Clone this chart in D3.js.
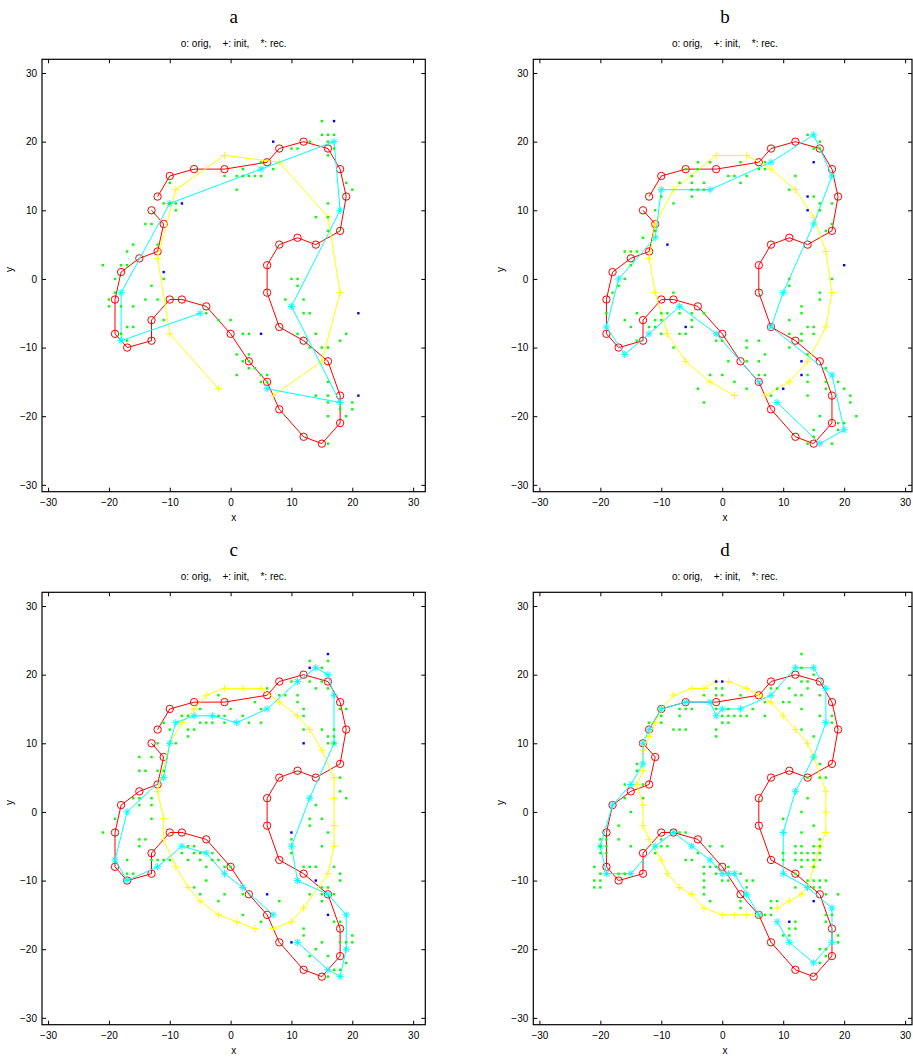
<!DOCTYPE html>
<html><head><meta charset="utf-8">
<script src="https://cdn.jsdelivr.net/npm/d3@7"></script>
<style>body{margin:0;background:#fff}svg{display:block}</style>
</head><body>
<script>
// ---------- data ----------
const tickValues = [-30,-20,-10,0,10,20,30];
const panelNames = ['a','b','c','d'];
const subtitle = 'o: orig,    +: init,    *: rec.';

const orig = [[-13,10],[-11,8],[-12,4],[-15,3],[-18,1],[-19,-3],[-19,-8],[-17,-10],[-13,-9],[-13,-6],[-10,-3],[-8,-3],[-4,-4],[0,-8],[3,-12],[6,-15],[8,-19],[12,-23],[15,-24],[18,-21],[18,-17],[16,-12],[12,-9],[8,-7],[6,-2],[6,2],[8,5],[11,6],[14,5],[18,7],[19,12],[18,16],[16,19],[12,20],[8,19],[6,17],[-1,16],[-6,16],[-10,15],[-12,12]];

const initA = [[-2,-16],[-10,-8],[-12,3],[-9,13],[-1,18],[8,17],[16,9],[18,-2],[15,-12],[7,-17]];
const recA = [[-5,-5],[-18,-9],[-18,-2],[-10,11],[5,16],[17,20],[18,10],[10,-4],[18,-18],[6,-16]];
const greenA = [[15,23],[15,21],[16,21],[17,21],[13,20],[16,20],[17,19],[10,19],[11,19],[16,18],[5,17],[2,16],[7,16],[-1,15],[1,15],[2,15],[3,15],[4,15],[5,15],[1,13],[-10,14],[19,14],[20,13],[16,11],[-11,11],[-10,11],[-9,11],[-9,10],[14,9],[16,9],[16,7],[-14,8],[-13,8],[-16,5],[-12,5],[-17,4],[-21,2],[-18,2],[-17,2],[-19,0],[-11,0],[-13,-1],[10,0],[11,0],[11,-1],[-19,-2],[9,-3],[12,-3],[-20,-3],[-14,-3],[-12,-3],[-20,-4],[-18,-4],[-16,-4],[12,-5],[13,-5],[-4,-5],[-11,-6],[-2,-6],[0,-6],[-17,-7],[-16,-7],[2,-8],[3,-8],[-18,-8],[11,-8],[14,-8],[19,-8],[-17,-9],[18,-9],[13,-10],[15,-10],[16,-10],[1,-11],[3,-11],[2,-12],[3,-12],[3,-13],[4,-13],[1,-14],[5,-14],[6,-14],[5,-15],[6,-15],[16,-15],[14,-17],[16,-17],[20,-18],[16,-18],[18,-19],[20,-19],[16,-20],[19,-20],[16,-24]];
const blueA = [[17,23],[7,20],[-8,11],[-11,1],[5,-8],[21,-5],[21,-17]];

const initB = [[2,-17],[-2,-15],[-6,-12],[-9,-8],[-11,-2],[-12,3],[-11,8],[-8,13],[-1,18],[4,18],[8,16],[12,13],[15,9],[17,4],[18,-2],[17,-7],[14,-12],[11,-15],[7,-17]];
const recB = [[9,-18],[16,-24],[20,-22],[18,-14],[8,-7],[10,-2],[15,8],[18,15],[15,21],[8,17],[-2,13],[-10,13],[-11,6],[-17,0],[-19,-7],[-16,-11],[-12,-8],[-7,-4],[-1,-8],[6,-15]];
const greenB = [[14,21],[16,20],[15,19],[16,19],[-4,17],[-2,17],[3,17],[7,17],[-6,16],[-4,16],[6,16],[7,16],[1,15],[2,15],[4,15],[12,15],[-5,15],[-7,14],[-5,14],[-3,14],[3,14],[-5,13],[-4,13],[-3,13],[11,13],[-5,12],[15,12],[-10,12],[-8,11],[16,11],[18,11],[-11,10],[16,10],[18,8],[-11,7],[17,7],[-13,6],[-16,4],[-15,4],[-14,4],[-15,2],[-16,0],[11,0],[18,0],[11,-1],[-17,-1],[-8,-2],[-18,-2],[16,-2],[16,-3],[13,-4],[-14,-5],[-10,-5],[-9,-5],[-7,-5],[-5,-5],[-3,-5],[13,-5],[-19,-5],[-16,-6],[-11,-6],[-10,-6],[-5,-6],[11,-6],[-15,-7],[-12,-7],[-11,-7],[-5,-7],[14,-7],[15,-7],[-10,-8],[-7,-8],[-6,-8],[11,-8],[13,-8],[15,-8],[-1,-9],[0,-9],[4,-9],[6,-9],[-14,-9],[13,-9],[-8,-10],[4,-10],[11,-10],[7,-11],[14,-11],[1,-12],[4,-12],[6,-12],[17,-13],[-2,-14],[0,-14],[6,-14],[7,-14],[14,-14],[2,-15],[14,-15],[17,-15],[19,-15],[-4,-16],[4,-16],[9,-16],[17,-16],[20,-16],[14,-17],[21,-17],[8,-17],[-3,-18],[21,-18],[22,-20],[16,-20],[19,-21],[20,-21],[15,-22],[19,-22],[14,-24],[18,-24],[15,-23]];
const blueB = [[15,17],[14,12],[14,10],[-9,5],[20,2],[-6,-7],[13,-12],[13,-14],[10,-16]];

const initC = [[4,-17],[1,-16],[-2,-15],[-5,-13],[-7,-11],[-9,-8],[-11,-4],[-11,-1],[-12,3],[-10,10],[-8,13],[-6,15],[-4,17],[-1,18],[2,18],[5,18],[8,16],[11,14],[13,12],[15,9],[17,5],[17,2],[17,-2],[17,-5],[16,-9],[12,-14],[10,-16],[7,-17]];
const recC = [[11,-19],[16,-23],[18,-24],[19,-20],[19,-15],[16,-12],[11,-10],[10,-5],[13,2],[17,10],[17,17],[16,20],[14,21],[11,19],[6,15],[1,13],[-3,14],[-6,14],[-9,13],[-10,10],[-11,5],[-17,0],[-19,-7],[-17,-10],[-12,-8],[-8,-5],[-4,-6],[-1,-9],[2,-11],[7,-15]];
const greenC = [[16,22],[13,22],[15,21],[10,19],[13,19],[15,19],[14,18],[16,18],[6,18],[8,17],[9,17],[11,17],[-2,17],[4,16],[11,16],[-5,15],[0,15],[5,15],[12,15],[18,15],[19,15],[12,14],[-8,14],[-7,14],[-2,14],[-1,14],[2,14],[-11,13],[-5,13],[-4,13],[-3,13],[-1,13],[3,13],[5,13],[-10,12],[-7,12],[-6,12],[12,12],[15,12],[17,12],[-7,11],[16,11],[17,11],[-12,10],[-9,10],[16,10],[17,10],[-15,8],[-13,8],[-15,6],[-14,6],[-12,6],[-11,6],[18,5],[18,3],[19,2],[-16,2],[-15,2],[-13,2],[-15,1],[-13,1],[14,1],[-19,-1],[-13,-1],[13,-1],[15,-1],[-21,-3],[13,-2],[16,-3],[-15,-4],[-14,-4],[10,-4],[-15,-5],[15,-5],[-17,-7],[-13,-7],[-12,-7],[-11,-7],[-10,-7],[-7,-7],[-5,-7],[-3,-7],[-2,-7],[-8,-6],[-6,-6],[-5,-6],[-3,-6],[-7,-5],[-6,-5],[10,-6],[-4,-8],[-1,-8],[0,-8],[12,-8],[13,-8],[14,-8],[17,-8],[-17,-9],[-16,-9],[18,-9],[18,-10],[-4,-10],[15,-11],[16,-11],[-6,-11],[-5,-12],[-1,-12],[2,-12],[13,-12],[15,-12],[17,-12],[-2,-13],[8,-13],[15,-13],[2,-15],[5,-16],[17,-16],[18,-16],[12,-17],[12,-18],[20,-18],[18,-19],[19,-19],[20,-19],[15,-19],[14,-20],[19,-22],[13,-21],[16,-21],[17,-23],[18,-23],[16,-24]];
const blueC = [[16,23],[13,21],[12,10],[10,-3],[14,-10],[6,-12],[16,-15],[10,-19]];

const initD = [[6,-15],[4,-15],[2,-15],[0,-15],[-3,-14],[-5,-12],[-7,-11],[-9,-9],[-10,-7],[-12,-4],[-13,-2],[-13,1],[-14,4],[-13,6],[-13,9],[-12,11],[-11,13],[-10,15],[-8,17],[-5,18],[-3,18],[-1,19],[1,19],[4,18],[6,17],[8,16],[10,14],[12,12],[14,10],[15,8],[17,3],[17,0],[17,-3],[16,-5],[15,-8],[14,-11],[13,-12],[11,-13],[9,-14]];
const recD = [[6,-15],[4,-12],[2,-9],[1,-9],[0,-9],[-2,-7],[-5,-5],[-8,-3],[-11,-5],[-15,-9],[-19,-9],[-20,-5],[-18,1],[-15,4],[-13,7],[-13,10],[-12,12],[-10,15],[-6,16],[-2,16],[-1,14],[0,15],[3,15],[8,17],[12,21],[15,21],[17,18],[17,13],[15,8],[12,3],[10,-3],[10,-9],[14,-11],[18,-14],[18,-19],[15,-22],[11,-19],[9,-16]];
const greenD = [[13,23],[13,21],[13,19],[14,19],[15,20],[8,18],[9,18],[11,18],[14,18],[-1,18],[0,18],[-3,17],[-1,17],[0,17],[3,17],[12,17],[13,17],[16,17],[7,16],[10,16],[11,16],[-7,15],[-6,15],[-5,15],[-1,15],[1,15],[5,15],[13,15],[-10,14],[-7,14],[0,14],[1,14],[2,14],[3,14],[4,14],[7,14],[16,14],[18,14],[-12,13],[-10,13],[0,13],[1,13],[18,13],[-8,12],[-7,12],[-6,12],[-1,12],[13,12],[-1,11],[15,11],[-14,7],[-14,6],[16,7],[-16,4],[-13,4],[14,5],[16,5],[17,5],[-16,2],[-13,2],[14,2],[-15,0],[13,0],[10,-1],[15,-2],[-17,-2],[13,-3],[16,-4],[-20,-4],[-19,-4],[-17,-4],[-20,-5],[-19,-5],[-15,-5],[-10,-4],[-7,-3],[-6,-3],[-10,-5],[-9,-5],[0,-5],[-2,-5],[12,-5],[13,-5],[15,-5],[16,-5],[-20,-6],[-19,-6],[-11,-6],[-4,-6],[10,-6],[12,-6],[13,-6],[14,-6],[15,-6],[16,-6],[-6,-7],[-5,-7],[10,-7],[12,-7],[13,-7],[14,-7],[15,-7],[16,-7],[-21,-8],[-3,-8],[-2,-8],[-1,-8],[1,-8],[13,-8],[15,-8],[-20,-9],[-17,-9],[-16,-9],[-3,-9],[-1,-9],[3,-9],[12,-9],[-21,-10],[-20,-10],[-3,-10],[0,-10],[1,-10],[4,-10],[5,-10],[14,-10],[15,-10],[16,-10],[17,-10],[-21,-11],[-20,-11],[-3,-11],[4,-11],[12,-11],[15,-11],[16,-11],[-3,-12],[17,-12],[19,-12],[-2,-13],[3,-13],[8,-13],[9,-13],[3,-14],[8,-14],[17,-15],[18,-15],[7,-15],[8,-15],[12,-16],[17,-16],[11,-17],[12,-17],[10,-18],[11,-18],[19,-18],[19,-19],[16,-20],[17,-20],[16,-22],[17,-21]];
const blueD = [[-1,19],[0,19],[15,-13],[11,-16]];

const panelData = [
  {init: initA, rec: recA, green: greenA, blue: blueA},
  {init: initB, rec: recB, green: greenB, blue: blueB},
  {init: initC, rec: recC, green: greenC, blue: blueC},
  {init: initD, rec: recD, green: greenD, blue: blueD}
];

// ---------- layout ----------
const W = 913, H = 1059;
const colX = [{x0: 42, x1: 425.3, right: 425.3}, {x0: 533.3, x1: 917.3, right: 912}];
const rowY = [{y0: 59.3, y1: 491.7}, {y0: 592.3, y1: 1024.7}];
const domain = [-31, 32];

const svg = d3.select('body').append('svg').attr('width', W).attr('height', H)
  .style('font-family', '"Liberation Sans", Arial, sans-serif');
svg.append('rect').attr('width', W).attr('height', H).attr('fill', '#fff');

const signFmt = d => d < 0 ? '\u2212' + Math.abs(d) : String(d);

panelData.forEach((pd, i) => {
  const c = colX[i % 2], r = rowY[Math.floor(i / 2)];
  const x = d3.scaleLinear().domain(domain).range([c.x0, c.x1]);
  const y = d3.scaleLinear().domain(domain).range([r.y1, r.y0]);
  const g = svg.append('g');
  const cx = c.x0 + (425.3 - 42) / 2;

  // titles
  g.append('text').attr('x', cx).attr('y', r.y0 - 36.5).attr('text-anchor', 'middle')
    .style('font-family', '"Liberation Serif","DejaVu Serif",serif')
    .style('font-size', '19px').text(panelNames[i]);
  g.append('text').attr('x', cx).attr('y', r.y0 - 12).attr('text-anchor', 'middle')
    .attr('xml:space', 'preserve').style('white-space', 'pre')
    .style('font-size', '10px').text(subtitle);

  // axes
  const axB = g.append('g').attr('transform', `translate(0,${r.y1})`)
    .call(d3.axisBottom(x).tickValues(tickValues).tickSizeInner(-4).tickSizeOuter(0).tickPadding(7).tickFormat(signFmt));
  const axL = g.append('g').attr('transform', `translate(${c.x0},0)`)
    .call(d3.axisLeft(y).tickValues(tickValues).tickSizeInner(-4).tickSizeOuter(0).tickPadding(5).tickFormat(signFmt));
  const axT = g.append('g').attr('transform', `translate(0,${r.y0})`)
    .call(d3.axisTop(x).tickValues(tickValues).tickSizeInner(-4).tickSizeOuter(0).tickFormat(''));
  const axR = g.append('g').attr('transform', `translate(${c.right},0)`)
    .call(d3.axisRight(y).tickValues(tickValues).tickSizeInner(-4).tickSizeOuter(0).tickFormat(''));
  [axB, axL, axT, axR].forEach(a => {
    a.select('.domain').remove();
    a.selectAll('line').attr('stroke', '#000');
    a.selectAll('text').attr('fill', '#000').style('font-size', '10px')
      .style('font-family', '"Liberation Sans", Arial, sans-serif');
  });
  g.append('rect').attr('x', c.x0).attr('y', r.y0).attr('width', c.right - c.x0).attr('height', r.y1 - r.y0)
    .attr('fill', 'none').attr('stroke', '#000').attr('stroke-width', 1.2);

  g.append('text').attr('x', cx).attr('y', r.y1 + 29).attr('text-anchor', 'middle')
    .style('font-size', '10px').text('x');
  g.append('text').attr('transform', `translate(${c.x0 - 29},${(r.y0 + r.y1) / 2 - 6}) rotate(-90)`)
    .attr('text-anchor', 'middle').style('font-size', '10px').text('y');

  const line = d3.line().x(d => x(d[0])).y(d => y(d[1]));

  // orig (red, circles)
  g.append('path').datum(orig).attr('d', line).attr('fill', 'none').attr('stroke', '#ff0000').attr('stroke-width', 1);
  g.selectAll('.oc').data(orig).join('circle').attr('cx', d => x(d[0])).attr('cy', d => y(d[1]))
    .attr('r', 3.7).attr('fill', 'none').attr('stroke', '#ff0000').attr('stroke-width', 1);

  // init (yellow, plus)
  g.append('path').datum(pd.init).attr('d', line).attr('fill', 'none').attr('stroke', '#ffff00').attr('stroke-width', 1);
  const s = 3.6;
  g.selectAll('.ip').data(pd.init).join('path')
    .attr('d', d => `M${x(d[0]) - s},${y(d[1])}H${x(d[0]) + s}M${x(d[0])},${y(d[1]) - s}V${y(d[1]) + s}`)
    .attr('stroke', '#ffff00').attr('stroke-width', 1).attr('fill', 'none');

  // rec (cyan, asterisk)
  g.append('path').datum(pd.rec).attr('d', line).attr('fill', 'none').attr('stroke', '#00ffff').attr('stroke-width', 1);
  const t = 2.6;
  g.selectAll('.rp').data(pd.rec).join('path')
    .attr('d', d => {
      const px = x(d[0]), py = y(d[1]);
      return `M${px - s},${py}H${px + s}M${px},${py - s}V${py + s}M${px - t},${py - t}L${px + t},${py + t}M${px - t},${py + t}L${px + t},${py - t}`;
    })
    .attr('stroke', '#00ffff').attr('stroke-width', 1).attr('fill', 'none');

  // dots
  const ds = 2.4;
  g.selectAll('.gd').data(pd.green).join('rect')
    .attr('x', d => x(d[0]) - ds / 2).attr('y', d => y(d[1]) - ds / 2).attr('width', ds).attr('height', ds)
    .attr('fill', '#00ff00');
  g.selectAll('.bd').data(pd.blue).join('rect')
    .attr('x', d => x(d[0]) - ds / 2).attr('y', d => y(d[1]) - ds / 2).attr('width', ds).attr('height', ds)
    .attr('fill', '#0000ff');
});
</script>
</body></html>
